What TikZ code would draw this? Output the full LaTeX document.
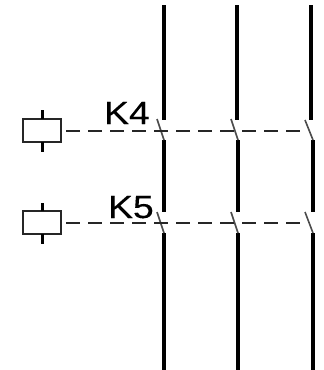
\documentclass[tikz,border=0pt]{standalone}
\usepackage{fontspec}
\setmainfont{Liberation Sans}
\tikzset{
  coil/.style={draw=black!85,line width=1.6pt,minimum width=38pt,minimum height=23pt,inner sep=0pt,outer sep=0pt},
  stub/.style={line width=3pt,black},
  power/.style={line width=3.8pt,black},
  blade/.style={line width=1.6pt,black!70},
  link/.style={line width=1.6pt,black!85,dash pattern=on 14pt off 8pt},
  tag/.style={inner sep=0pt,outer sep=0pt,anchor=base west,font=\fontsize{32}{32}\selectfont\addfontfeature{FakeBold=0.2},xscale=1.17}
}
\begin{document}
\begin{tikzpicture}[x=1pt,y=-1pt]
\useasboundingbox (0,0) rectangle (324,370);
% coils
\node[coil] (c1) at (42,130.5) {};
\node[coil] (c2) at (42,222.5) {};
\coordinate (c1t) at (42,110); \coordinate (c1b) at (42,152);
\coordinate (c2t) at (42,203); \coordinate (c2b) at (42,244);
\draw[stub] (c1.north) -- (c1t);
\draw[stub] (c1.south) -- (c1b);
\draw[stub] (c2.north) -- (c2t);
\draw[stub] (c2.south) -- (c2b);
% labels
\node[tag] (k4) at (104,124) {K4};
\node[tag] (k5) at (108,218) {K5};
% power lines
\coordinate (a0) at (164,5);  \coordinate (a1) at (164,120); \coordinate (a2) at (164,140); \coordinate (a3) at (164,212); \coordinate (a4) at (164,233); \coordinate (a5) at (164,370);
\coordinate (b0) at (237,5);  \coordinate (b1) at (237,120); \coordinate (b2) at (238,140); \coordinate (b3) at (238,212); \coordinate (b4) at (238,233); \coordinate (b5) at (238,370);
\coordinate (d0) at (311,5);  \coordinate (d1) at (311,120); \coordinate (d2) at (313,140); \coordinate (d3) at (313,212); \coordinate (d4) at (313,233); \coordinate (d5) at (313,370);
\foreach \n in {a,b,d}{
  \draw[power] (\n0) -- (\n1);
  \draw[power] (\n2) -- (\n3);
  \draw[power] (\n4) -- (\n5);
}
% contact blades
\coordinate (ba1) at (157,119); \coordinate (ba2) at (157,212);
\coordinate (bb1) at (231,119); \coordinate (bb2) at (231,212);
\coordinate (bd1) at (305,120); \coordinate (bd2) at (305,212);
\foreach \n in {a,b,d}{
  \draw[blade] (b\n1) -- (\n2);
  \draw[blade] (b\n2) -- (\n4);
}
% mechanical links
\coordinate (e1) at (300,131); \coordinate (e2) at (300,223);
\draw[link] (66,131) -- (e1);
\draw[link] (66,223) -- (e2);
\end{tikzpicture}
\end{document}
